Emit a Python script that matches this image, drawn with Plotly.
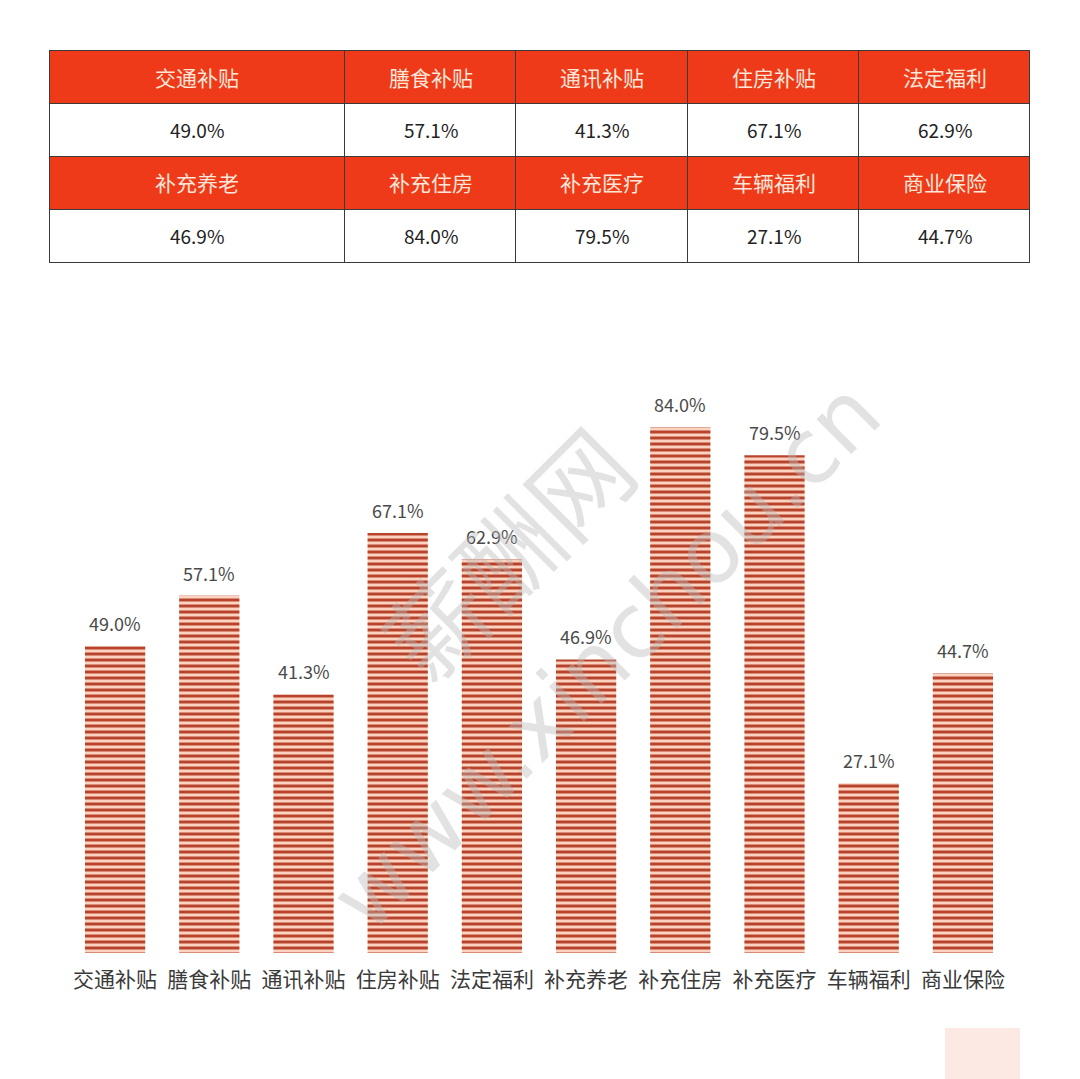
import plotly.graph_objects as go

# Data
categories = ['交通补贴', '膳食补贴', '通讯补贴', '住房补贴', '法定福利',
              '补充养老', '补充住房', '补充医疗', '车辆福利', '商业保险']
values = [49.0, 57.1, 41.3, 67.1, 62.9, 46.9, 84.0, 79.5, 27.1, 44.7]

# page geometry (the page body adds an 8px margin)
OFF = 8
FW, FH = 1072, 1071


def px(x):
    return (x - OFF) / FW


def py(y):
    return 1 - (y - OFF) / FH


RED = '#EE3A18'
HEAD_TXT = '#FCE6DA'
FONT = 'Noto Sans CJK SC'

# table layout
tab_left, tab_top, row_h = 49, 50, 53
col_w = [296, 171, 172, 171, 171]

fig = go.Figure()

# grid of the table: 4 rows (name, value, name, value) x 5 columns
fig.add_trace(go.Table(
    domain=dict(x=[px(tab_left), px(tab_left + sum(col_w))],
                y=[py(tab_top + 4 * row_h + 2), py(tab_top)]),
    columnwidth=col_w,
    header=dict(values=[''] * 5, fill_color=RED,
                line=dict(color='#3a3a3a', width=1), height=row_h),
    cells=dict(values=[['', '', ''] for _ in range(5)],
               fill=dict(color=[['white', RED, 'white'] for _ in range(5)]),
               line=dict(color='#3a3a3a', width=1), height=row_h),
))

# table texts
col_centers = []
acc = tab_left
for w in col_w:
    col_centers.append(acc + w / 2)
    acc += w
for b in range(2):
    for i in range(5):
        k = b * 5 + i
        y_name = tab_top + row_h * (2 * b) + row_h / 2
        y_val = y_name + row_h
        fig.add_annotation(text=categories[k], x=px(col_centers[i]), y=py(y_name),
                           xref='paper', yref='paper', showarrow=False,
                           xanchor='center', yanchor='middle',
                           font=dict(family=FONT, size=21, color=HEAD_TXT))
        fig.add_annotation(text=f'{values[k]:.1f}%', x=px(col_centers[i]), y=py(y_val),
                           xref='paper', yref='paper', showarrow=False,
                           xanchor='center', yanchor='middle',
                           font=dict(family=FONT, size=19, color='#222222'))

fig.add_trace(go.Bar(
    x=categories,
    y=values,
    marker=dict(
        color='#FBD3C0',
        line=dict(width=0),
        pattern=dict(shape='-', fgcolor='#B8432C', bgcolor='#FBD3C0',
                     size=6, solidity=0.5, fillmode='replace'),
    ),
    showlegend=False,
    hoverinfo='x+y',
))

# value labels above bars
for c, v in zip(categories, values):
    fig.add_annotation(text=f'{v:.1f}%', x=c, y=v, xref='x', yref='y',
                       showarrow=False, yshift=23,
                       xanchor='center', yanchor='middle',
                       font=dict(family=FONT, size=18, color='#4a4a4a'))

# Watermark
fig.add_annotation(text='薪酬网', x=px(505), y=py(550), xref='paper', yref='paper',
                   showarrow=False, textangle=-45, xanchor='center', yanchor='middle',
                   font=dict(family=FONT, size=100, color='rgba(185,185,185,0.42)'))
fig.add_annotation(text='www.xinchou.cn', x=px(605), y=py(655), xref='paper', yref='paper',
                   showarrow=False, textangle=-45, xanchor='center', yanchor='middle',
                   font=dict(family='DejaVu Sans', size=90, color='rgba(185,185,185,0.42)'))

# Pale square at bottom right
fig.add_shape(type='rect', xref='paper', yref='paper',
              x0=px(945), x1=px(1020), y0=0, y1=py(1028),
              fillcolor='#FDE9E4', line=dict(width=0), layer='below')

fig.update_layout(
    width=FW, height=FH,
    margin=dict(l=0, r=0, t=0, b=0),
    paper_bgcolor='white',
    plot_bgcolor='white',
    bargap=0.36,
    xaxis=dict(domain=[px(68), px(1010)], showgrid=False, showline=False, ticks='',
               ticklabelstandoff=12,
               tickfont=dict(family=FONT, size=21, color='#3a3a3a')),
    yaxis=dict(domain=[py(953), py(327)], range=[0, 100], visible=False),
    font=dict(family=FONT),
)

fig.write_html('out.html')
